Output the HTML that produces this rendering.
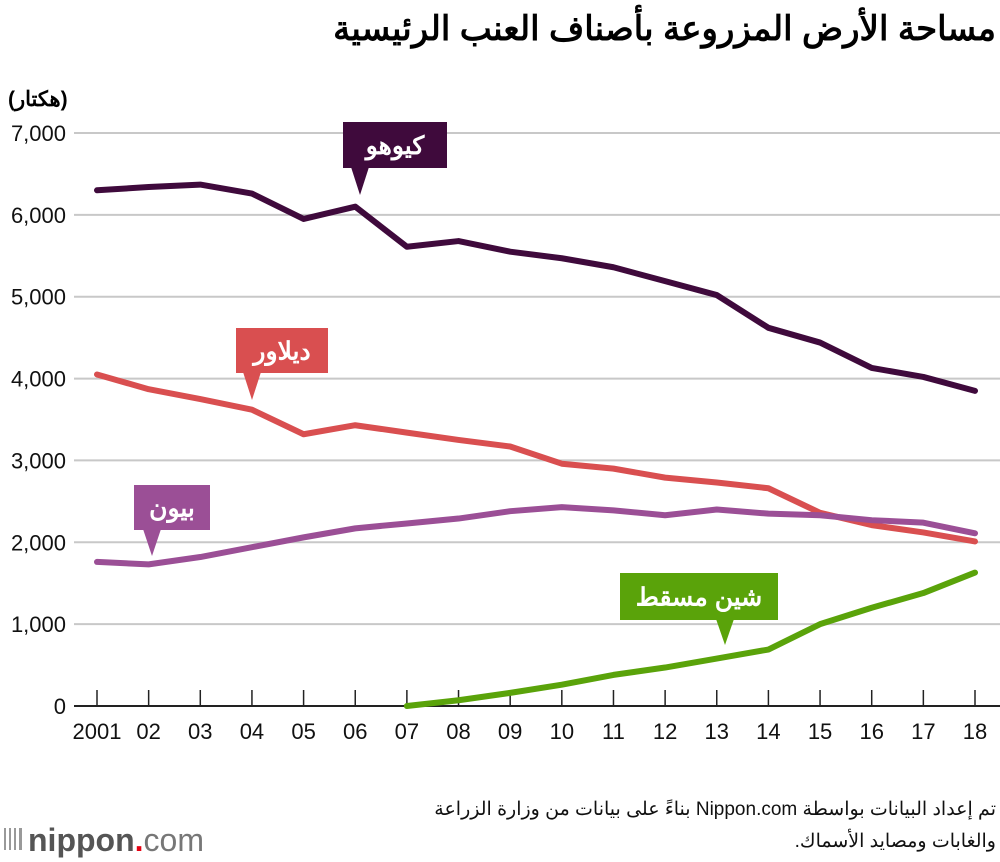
<!DOCTYPE html>
<html><head><meta charset="utf-8"><style>
body{margin:0;background:#fff;}
svg{display:block;font-family:"Liberation Sans","Noto Sans CJK SC",sans-serif;}
</style></head><body>
<svg id="chart" width="1000" height="862">
<text x="996" y="40" text-anchor="end" font-size="34" font-weight="bold" fill="#000">مساحة الأرض المزروعة بأصناف العنب الرئيسية</text>
<text x="8" y="106" font-size="21" font-weight="bold" fill="#000">(هكتار)</text>
<g id="grid"></g><g id="lines"></g><g id="labels"></g>
<text x="996" y="815" text-anchor="start" direction="rtl" font-size="19" fill="#111">تم إعداد البيانات بواسطة Nippon.com بناءً على بيانات من وزارة الزراعة</text>
<text x="996" y="847" text-anchor="start" direction="rtl" font-size="19" fill="#111">والغابات ومصايد الأسماك.</text>
<g>
<rect x="4" y="828" width="2" height="22" fill="#999"/><rect x="9" y="828" width="2" height="22" fill="#999"/><rect x="14" y="828" width="2" height="22" fill="#999"/><rect x="19" y="828" width="3" height="22" fill="#999"/>
<text x="28" y="851" font-size="32" fill="#555"><tspan font-weight="bold">nippon</tspan><tspan fill="#e60012" font-weight="bold">.</tspan><tspan fill="#777">com</tspan></text>
</g>
</svg>
<script>
const years=["2001","02","03","04","05","06","07","08","09","10","11","12","13","14","15","16","17","18"];
const yTicks=[0,1000,2000,3000,4000,5000,6000,7000];
const yTickLabels=["0","1,000","2,000","3,000","4,000","5,000","6,000","7,000"];
const kyoho=[6300,6340,6370,6260,5950,6100,5610,5680,5550,5470,5360,5190,5020,4620,4440,4130,4020,3850];
const delaware=[4050,3870,3750,3620,3320,3430,3340,3250,3170,2960,2900,2790,2730,2660,2360,2210,2120,2010];
const pione=[1760,1730,1820,1940,2060,2170,2230,2290,2380,2430,2390,2330,2400,2350,2330,2270,2240,2110];
const shineMuscat=[null,null,null,null,null,null,0,70,160,260,380,470,580,690,1000,1200,1380,1630];
const NS="http://www.w3.org/2000/svg";
const x=i=>97+i*(975-97)/17;
const y=v=>706-v*(706-133)/7000;
function mk(t,a,p){const e=document.createElementNS(NS,t);for(const k in a)e.setAttribute(k,a[k]);p.appendChild(e);return e;}
const grid=document.getElementById('grid');
yTicks.forEach((v,i)=>{
 const l=mk('line',{x1:74,x2:1000,y1:y(v),y2:y(v),stroke:v===0?'#222':'#c8c8c8','stroke-width':2},grid);
 
 
 const t=mk('text',{x:66,y:y(v)+8,'text-anchor':'end','font-size':22,fill:'#111'},grid);
 t.textContent=yTickLabels[i];
 
 
});
years.forEach((yr,i)=>{
 const tk=mk('line',{x1:x(i),x2:x(i),y1:690,y2:706,stroke:'#222','stroke-width':1.5},grid);
 
 
 const t=mk('text',{x:x(i),y:739,'text-anchor':'middle','font-size':22,fill:'#111'},grid);
 t.textContent=yr;
 
 
});
const lines=document.getElementById('lines');
[[kyoho,'#3f0a3c','kyoho-line'],[delaware,'#d94f50','delaware-line'],[pione,'#9b4f96','pione-line'],[shineMuscat,'#5aa30a','shine-muscat-line']].forEach(([d,c,n])=>{
 const pts=d.map((v,i)=>v==null?null:x(i)+','+y(v)).filter(p=>p);
 const p=mk('polyline',{points:pts.join(' '),fill:'none',stroke:c,'stroke-width':6,'stroke-linejoin':'round','stroke-linecap':'round'},lines);
 
 
});
const labels=document.getElementById('labels');
[['كيوهو','#3f0a3c',343,122,104,46,360,195,'kyoho-label'],['ديلاور','#d94f50',236,328,92,45,252,400,'delaware-label'],['بيون','#9b4f96',134,485,76,45,152,556,'pione-label'],['شين مسقط','#5aa30a',620,573,158,47,725,645,'shine-muscat-label']].forEach(([txt,c,bx,by,bw,bh,px,py,n])=>{
 const g=mk('g',{},labels);
 
 
 mk('rect',{x:bx,y:by,width:bw,height:bh,fill:c},g);
 mk('polygon',{points:`${px-9},${by+bh-1} ${px+9},${by+bh-1} ${px},${py}`,fill:c},g);
 const t=mk('text',{x:bx+bw/2,y:by+bh/2+9,'text-anchor':'middle','font-size':25,'font-weight':'bold',fill:'#fff'},g);
 t.textContent=txt;
});
</script>
</body></html>
